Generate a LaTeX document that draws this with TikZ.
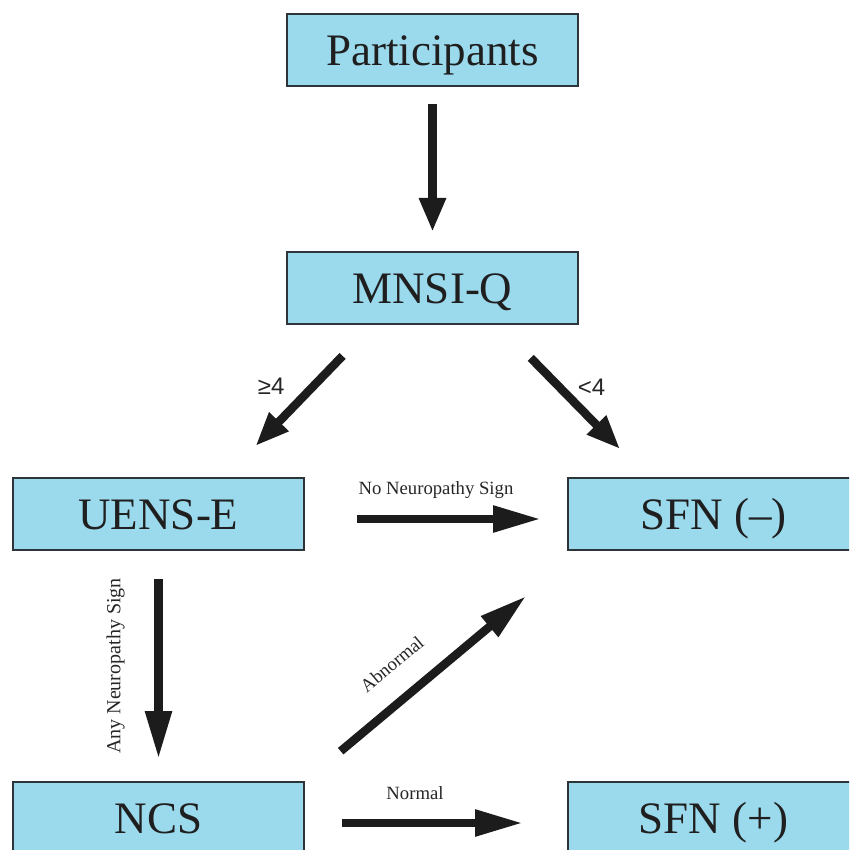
\documentclass[tikz,border=0pt]{standalone}
\usepackage{fontspec}
\setmainfont{Liberation Serif}
\newfontfamily\labelsans{Liberation Sans}
\usetikzlibrary{arrows.meta}
\definecolor{boxblue}{RGB}{155,217,236}
\definecolor{boxline}{RGB}{45,52,58}
\definecolor{arrowdark}{RGB}{28,28,28}

\begin{document}
\begin{tikzpicture}[x=1pt,y=-1pt]

      \useasboundingbox (0,0) rectangle (849,850);
      \clip (0,0) rectangle (849,850);

      \begin{scope}[every node/.style={rectangle,draw=boxline,line width=2pt,fill=boxblue,
          minimum width=291pt,minimum height=72pt,inner sep=0pt,text=black!88,
          text height=31pt,text depth=0pt,font=\fontsize{45}{50}\selectfont}]
        \node (1) at (432.5,50)  {Participants};
        \node (2) at (432.5,288) {MNSI-Q};
        \node (3) at (158.5,514) {UENS-E};
        \node (4) at (713.5,514) {SFN (–)};
        \node (5) at (158.5,818) {NCS};
        \node (6) at (713.5,818) {SFN (+)};
      \end{scope}

      \begin{scope}[every node/.style={inner sep=0pt,text=black!85,font=\fontsize{18.7}{21}\selectfont}]

        \begin{scope}[every edge/.style={draw=arrowdark,line width=8.5pt,
            -{Triangle[length=34pt,width=25pt]}}]
          \path (1) edge[shorten <=17pt,shorten >=19pt] (2);
          \path ([xshift=-60pt]2.south) edge[shorten <=43pt,shorten >=43pt]
            node[pos=.4,left=25pt,font=\labelsans\fontsize{24}{26}\selectfont] {≥4} ([xshift=67pt]3.north);
          \path ([xshift=66pt]2.south) edge[shorten <=46pt,shorten >=39pt]
            node[pos=.41,right=14pt,font=\labelsans\fontsize{24}{26}\selectfont] {<4} ([xshift=-66pt]4.north);
        \end{scope}

        \begin{scope}[every edge/.style={draw=arrowdark,line width=8.5pt,
            -{Triangle[length=48pt,width=25pt]}}]
          \path ([yshift=-5pt]3.east) edge[shorten <=52pt,shorten >=26pt]
            node[above=16.5pt] {No Neuropathy Sign} ([yshift=-5pt]4.west);
          \path (3) edge[shorten <=28pt,shorten >=22pt]
            node[xshift=-29.5pt,rotate=90,anchor=south,font=\fontsize{20}{22}\selectfont] {Any Neuropathy Sign} (5);
          \path (5.north east) edge[shorten <=46.5pt,shorten >=70pt]
            node[pos=.395,sloped,above=23pt] {Abnormal} ([xshift=13pt]4.south west);
          \path ([yshift=-5pt]5.east) edge[shorten <=37pt,shorten >=44pt]
            node[pos=.42,above=19pt] {Normal} ([yshift=-5pt]6.west);
        \end{scope}
      \end{scope}

    \end{tikzpicture}
\end{document}
